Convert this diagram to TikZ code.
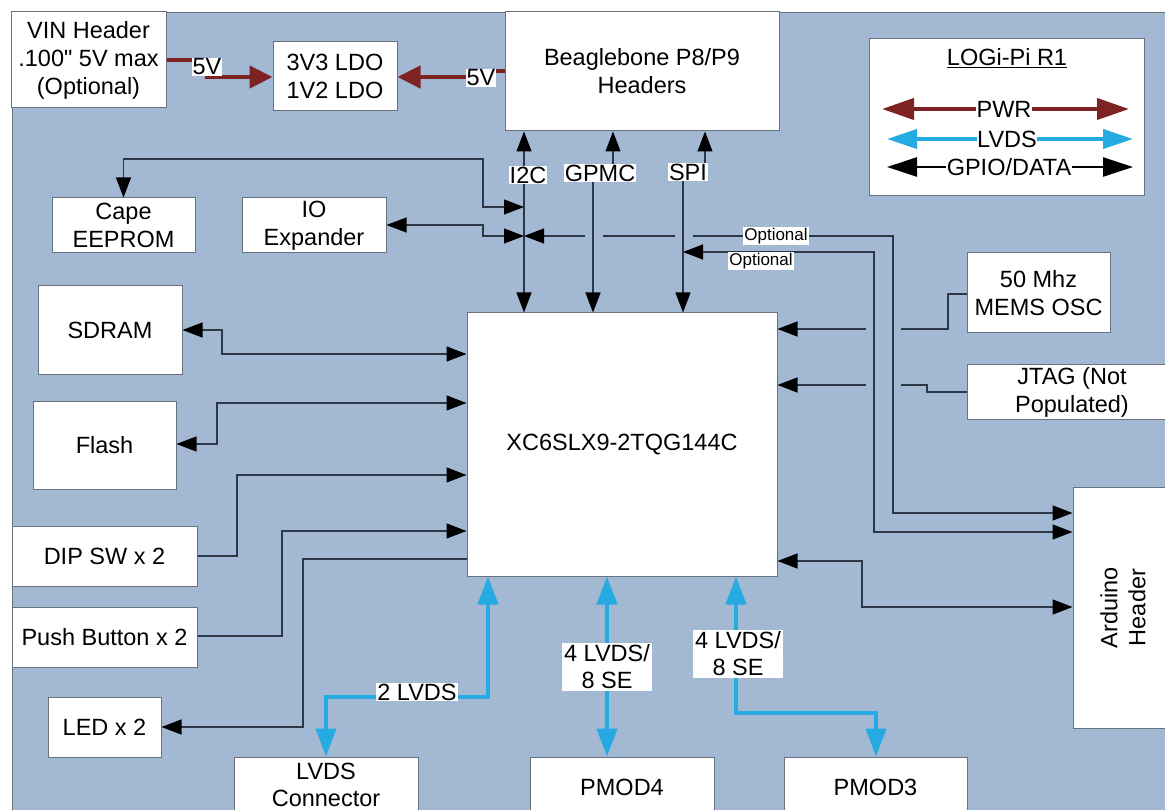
\documentclass[tikz,border=0pt]{standalone}
\usepackage{fontspec}
\setmainfont{Liberation Sans}[Ligatures=TeXOff]
\usetikzlibrary{arrows.meta}
\definecolor{bgc}{RGB}{162,184,211}
\definecolor{pwr}{RGB}{125,35,35}
\definecolor{lvds}{RGB}{38,170,226}
\definecolor{ln}{RGB}{45,55,70}
\definecolor{bx}{RGB}{105,115,128}
\begin{document}
\begin{tikzpicture}[x=1pt,y=-1pt,
  box/.style={draw=bx, line width=1pt, fill=white, align=center, inner sep=0pt, font=\fontsize{23.5}{28}\selectfont},
  lab/.style={fill=white, inner sep=1.5pt, align=center, font=\fontsize{23.5}{27}\selectfont},
  small/.style={fill=white, inner sep=1pt, font=\fontsize{17}{20}\selectfont},
  dat/.style={draw=ln, line width=1.1pt},
  pw/.style={draw=pwr, line width=4.5pt},
  lv/.style={draw=lvds, line width=4.5pt},
  eraser/.style={draw=bgc, line width=4pt},
  tipd/.tip={Triangle[length=20pt,width=15pt,color=black]},
  tipp/.tip={Triangle[length=23pt,width=22pt]},
  tipl/.tip={Triangle[length=28pt,width=20pt]},
  tippg/.tip={Triangle[length=32pt,width=21pt]},
  tiplg/.tip={Triangle[length=30pt,width=19pt]},
  tipdg/.tip={Triangle[length=30pt,width=19pt,color=black]}
]
\fill[white] (0,0) rectangle (1165,810);
\useasboundingbox (0,0) rectangle (1165,810);
\fill[bgc] (12,12) rectangle (1175,820);
\draw[bx, line width=0.8pt] (12,820) -- (12,12) -- (1175,12);

% boxes
\node[box, minimum width=155pt, minimum height=96pt] (vin) at (88.5,60) {VIN Header\\.100" 5V max\\(Optional)};
\node[box, minimum width=124pt, minimum height=69pt] (ldo) at (335,76.5) {3V3 LDO\\1V2 LDO};
\node[box, minimum width=274pt, minimum height=119pt] (bb) at (642,71.5) {Beaglebone P8/P9\\Headers};
\node[box, minimum width=275pt, minimum height=157pt] (leg) at (1006.5,117.5) {};
\node[box, minimum width=143pt, minimum height=55pt] (cape) at (123.5,225.5) {Cape\\EEPROM};
\node[box, minimum width=144pt, minimum height=55pt] (ioexp) at (314,225.5) {IO\\Expander};
\node[box, minimum width=144pt, minimum height=88pt] (sdram) at (110,330) {SDRAM};
\node[box, minimum width=143pt, minimum height=88pt] (flash) at (104.5,445) {Flash};
\node[box, minimum width=185pt, minimum height=60pt] (dip) at (104.5,556) {DIP SW x 2};
\node[box, minimum width=185pt, minimum height=60pt] (pb) at (104.5,637) {Push Button x 2};
\node[box, minimum width=113pt, minimum height=60pt] (led) at (104.5,727) {LED x 2};
\node[box, minimum width=184pt, minimum height=56pt, font=\fontsize{23.5}{27}\selectfont] (lvdsc) at (326,785) {LVDS\\Connector};
\node[box, minimum width=310pt, minimum height=263pt] (chip) at (622,444.5) {XC6SLX9-2TQG144C};
\node[box, minimum width=184pt, minimum height=60pt] (pmod4) at (622,787) {PMOD4};
\node[box, minimum width=183pt, minimum height=60pt] (pmod3) at (875.5,787) {PMOD3};
\node[box, minimum width=143pt, minimum height=80pt] (mems) at (1038.5,293) {50 Mhz\\MEMS OSC};
\node[box, minimum width=210pt, minimum height=54pt] (jtag) at (1072,392) {JTAG (Not\\Populated)};
\node[box, rotate=90, minimum width=241pt, minimum height=100pt] (ard) at (1123,607.5) {Arduino\\Header};

% legend
\node[lab, fill=none] (legt) at (1007,58) {\underline{LOGi-Pi R1}};
\coordinate (lpA) at (882,109); \coordinate (lpB) at (1129,109);
\coordinate (llA) at (887,139); \coordinate (llB) at (1133,139);
\coordinate (ldA) at (887,167); \coordinate (ldB) at (1133,167);
\draw[pw, line width=4pt, tippg-tippg] (lpA) -- (lpB);
\draw[lv, line width=4pt, tiplg-tiplg] (llA) -- (llB);
\draw[line width=2.5pt, black, tipdg-tipdg] (ldA) -- (ldB);
\node[lab, inner sep=0.5pt] (legp) at (1004,109) {PWR};
\node[lab, inner sep=0.5pt] (legl) at (1007,139) {LVDS};
\node[lab, inner sep=0.5pt] (legd) at (1009,167) {GPIO/DATA};

% power
\draw[pw, -tipp] (vin.east |- 0,60) -- (207,60) -- (207,77) -- (ldo.west |- 0,77);
\draw[pw, -tipp] (bb.west |- 0,71) -- (481,71) -- (481,77) -- (ldo.east |- 0,77);
\node[lab, inner sep=1pt] (p5a) at (207,67) {5V};
\node[lab, inner sep=1pt] (p5b) at (481,78) {5V};

% named points on the bus lines
\coordinate (i2cA) at (524,207);
\coordinate (i2cB) at (524,236);
\coordinate (spiB) at (683,252);

% MEMS / JTAG
\draw[dat, -tipd] (mems.west |- 0,294) -- (948,294) -- (948,329) -- (chip.east |- 0,329);
\draw[dat, -tipd] (jtag.west |- 0,392) -- (927,392) -- (927,385) -- (chip.east |- 0,385);
\draw[eraser] (866,329) -- (901,329);
\draw[eraser] (866,385) -- (901,385);

% optional lines to Arduino
\draw[dat, tipd-tipd] (i2cB) -- (893,236) -- (893,513) -- (ard.north |- 0,513);
\draw[dat, tipd-tipd] (spiB) -- (874,252) -- (874,532) -- (ard.north |- 0,532);
\draw[eraser] (585,236) -- (603,236);
\draw[eraser] (675,236) -- (693,236);

% Beaglebone buses
\draw[dat, tipd-tipd] (bb.south -| 524,0) -- (chip.north -| 524,0);
\draw[dat, tipd-tipd] (bb.south -| 613,0) -- (613,173) -- (593,173) -- (chip.north -| 593,0);
\draw[dat, tipd-tipd] (bb.south -| 705,0) -- (705,172) -- (683,172) -- (chip.north -| 683,0);
\node[lab, inner sep=1pt] (li2c) at (528,175) {I2C};
\node[lab, inner sep=1pt] (lgpmc) at (600,173) {GPMC};
\node[lab, inner sep=1pt] (lspi) at (688,172) {SPI};
\node[small] (opt1) at (776,236) {Optional};
\node[small] (opt2) at (761,261) {Optional};

% I2C side devices
\draw[dat, tipd-tipd] (cape.north) -- (123.5,159) -- (483,159) -- (483,207) -- (i2cA);
\draw[dat, tipd-tipd] (ioexp.east |- 0,225) -- (483,225) -- (483,236) -- (i2cB);

% left side
\draw[dat, tipd-tipd] (sdram.east) -- (222,330) -- (222,354) -- (chip.west |- 0,354);
\draw[dat, tipd-tipd] (flash.east |- 0,444) -- (217,444) -- (217,403) -- (chip.west |- 0,403);
\draw[dat, -tipd] (dip.east) -- (237,556) -- (237,475) -- (chip.west |- 0,475);
\draw[dat, -tipd] (pb.east |- 0,636) -- (282,636) -- (282,531) -- (chip.west |- 0,531);
\draw[dat, -tipd] (chip.west |- 0,559) -- (303,559) -- (303,727) -- (led.east);

% chip to Arduino
\draw[dat, tipd-tipd] (chip.east |- 0,561) -- (862,561) -- (862,607) -- (ard.north |- 0,607);

% LVDS
\draw[lv, tipl-tipl] (chip.south -| 488,0) -- (488,697) -- (326,697) -- (lvdsc.north);
\draw[lv, tipl-tipl] (chip.south -| 607,0) -- (pmod4.north -| 607,0);
\draw[lv, tipl-tipl] (chip.south -| 736,0) -- (736,713) -- (876,713) -- (pmod3.north -| 876,0);
\node[lab, inner sep=1pt] (l2l) at (417,692) {2 LVDS};
\node[lab, inner sep=2pt] (l4a) at (607,667) {4 LVDS/\\8 SE};
\node[lab, inner sep=2pt] (l4b) at (738,654) {4 LVDS/\\8 SE};
\end{tikzpicture}
\end{document}
